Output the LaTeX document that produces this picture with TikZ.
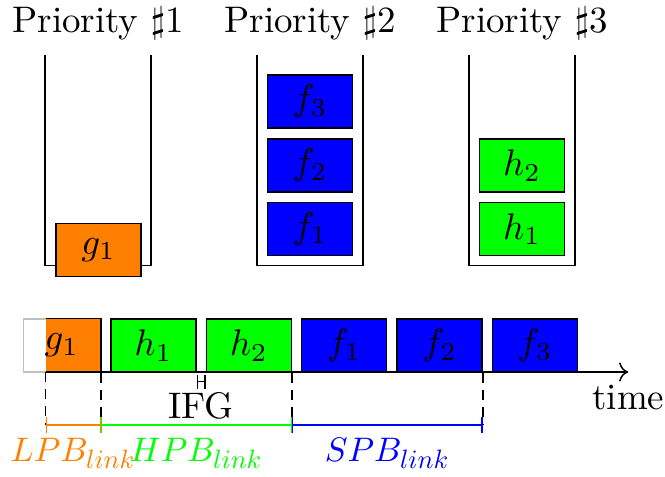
\documentclass[tikz,border=0pt]{standalone}
\usepackage{amsmath, amssymb}
\usepackage{graphicx}
\usepackage{xcolor}
\usetikzlibrary{arrows.meta}

\newcommand{\budget}[1]{\scalebox{0.92}{$#1_{\scalebox{0.78}{$link$}}$}}

\tikzset{
  qbox/.style={draw, minimum width=0.8075cm, minimum height=0.5035cm, inner sep=0pt},
  dashline/.style={dash pattern=on 2.7pt off 1.9pt},
  span/.style={{Bar[width=4.3pt]}-{Bar[width=4.3pt]}},
  ifgspan/.style={{Bar[width=3.8pt]}-{Bar[width=3.8pt]}},
}

\begin{document}
\begin{tikzpicture}[x=0.0095cm, y=0.0095cm]
  \useasboundingbox (0,0) rectangle (665,476);
  % ---- priority queues ----
  \foreach \c/\k in {98/1, 310/2, 522/3} {
    \node[anchor=base] (title\k) at (\c,444) {Priority $\sharp$\k};
    \draw (\c-53,421) -- (\c-53,210.3) -- (\c+53,210.3) -- (\c+53,421);
  }
  \node[qbox, fill=orange] (qg1) at (98.5,226) {$g_1$};
  \foreach \k/\y in {1/247, 2/310.3, 3/374.3} {
    \node[qbox, fill=blue] (qf\k) at (310,\y) {$f_{\k}$};
  }
  \foreach \k/\y in {1/247, 2/310.3} {
    \node[qbox, fill=green] (qh\k) at (522,\y) {$h_{\k}$};
  }

  % ---- link timeline ----
  \node[qbox, draw=gray!50, minimum width=0.7315cm] (tg1) at (61.8,130.5) {};
  \coordinate (t0) at (45.7,104);
  \fill[orange] (t0) rectangle (tg1.north east);
  \draw (t0 |- tg1.north) -- (tg1.north east) -- (tg1.south east);
  \node (tg1lab) at (tg1.center) {$g_1$};
  \foreach \x/\lab/\col/\nm in {153.4/{h_1}/green/th1, 248.8/{h_2}/green/th2,
      344.2/{f_1}/blue/tf1, 439.6/{f_2}/blue/tf2, 535/{f_3}/blue/tf3} {
    \node[qbox, fill=\col] (\nm) at (\x,130.5) {$\lab$};
  }
  \draw[->] (t0) -- (628.3,104) coordinate (tend) node[below] (time) {time};

  % ---- IFG ----
  \draw[ifgspan] ([yshift=-0.0855cm]th1.south east) -- ([yshift=-0.0855cm]th2.south west);
  \node[anchor=base] (ifg) at (201,58) {IFG};

  % ---- budgets ----
  \coordinate (base) at (0,51);
  \foreach \m in {t0, tg1.south east, th2.south east, tf2.south east} {
    \draw[dashline] (\m) -- (\m |- base);
  }
  \draw[span, orange] (t0 |- base) -- (tg1.south east |- base)
    node[midway, below] (lpb) {\budget{LPB}};
  \draw[span, green] (tg1.south east |- base) -- (th2.south east |- base)
    node[midway, below] (hpb) {\budget{HPB}};
  \draw[span, blue] (th2.south east |- base) -- (tf2.south east |- base)
    node[midway, below] (spb) {\budget{SPB}};
\end{tikzpicture}
\end{document}
